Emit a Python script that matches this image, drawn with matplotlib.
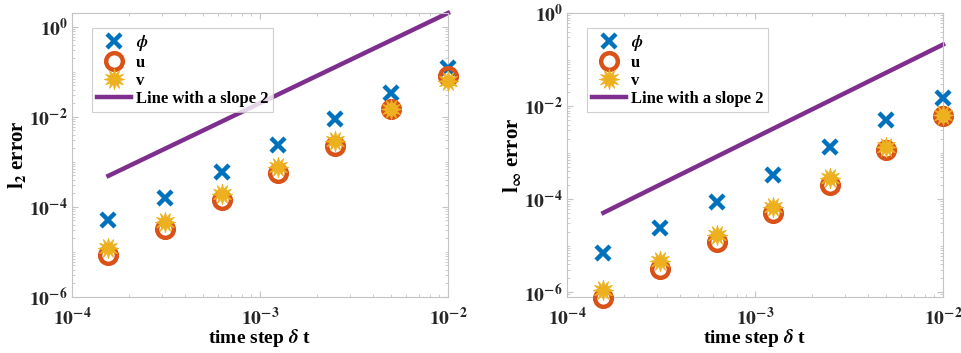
import matplotlib
matplotlib.use("Agg")
import matplotlib.pyplot as plt
import numpy as np
from matplotlib.ticker import FixedLocator, LogLocator, FuncFormatter, NullFormatter

plt.rcParams['font.family'] = ['Liberation Serif', 'DejaVu Serif']
plt.rcParams['font.weight'] = 'bold'
plt.rcParams['mathtext.fontset'] = 'stix'

dt = [1.5625e-4, 3.125e-4, 6.25e-4, 1.25e-3, 2.5e-3, 5e-3, 1e-2]

l2_phi = [5.0e-5, 1.6e-4, 5.8e-4, 2.4e-3, 8.7e-3, 3.4e-2, 0.12]
l2_u = [8.5e-6, 3.3e-5, 1.4e-4, 5.5e-4, 2.2e-3, 1.45e-2, 7.9e-2]
l2_v = [1.2e-5, 4.6e-5, 1.9e-4, 7.5e-4, 2.9e-3, 1.5e-2, 6.1e-2]
l2_ref = [4.88e-4, 1.95e-3, 7.8e-3, 3.125e-2, 0.125, 0.5, 2.0]

linf_phi = [6.9e-6, 2.4e-5, 8.9e-5, 3.3e-4, 1.35e-3, 5.1e-3, 1.5e-2]
linf_u = [7.4e-7, 3.1e-6, 1.23e-5, 5.0e-5, 2.0e-4, 1.15e-3, 6.0e-3]
linf_v = [1.1e-6, 4.6e-6, 1.7e-5, 6.9e-5, 2.8e-4, 1.35e-3, 6.5e-3]
linf_ref = [5.1e-5, 2.05e-4, 8.2e-4, 3.28e-3, 1.31e-2, 5.25e-2, 0.21]

labels = [r'$\phi$', 'u', 'v', 'Line with a slope 2']

C_BLUE = '#0072BD'
C_ORANGE = '#D95319'
C_YELLOW = '#EDB120'
C_PURPLE = '#7E2F8E'
FRAME = '#c4c4c4'

fig = plt.figure(figsize=(9.61, 3.53), dpi=100)

def fmt(v, pos):
    e = int(round(np.log10(v)))
    return r'$\mathbf{10^{%d}}$' % e

def panel(rect, phi, u, v, ref, ylim, ylabel):
    ax = fig.add_axes(rect)
    ax.set_xscale('log')
    ax.set_yscale('log')
    ax.plot(dt, phi, linestyle='none', marker='x', color=C_BLUE, ms=10, mew=3.2, label=labels[0], clip_on=False, zorder=3)
    ax.plot(dt, u, linestyle='none', marker='o', color=C_ORANGE, mfc='none', ms=12, mew=3.2, label=labels[1], clip_on=False, zorder=3)
    ax.plot(dt, v, linestyle='none', marker=(12, 1, 0), color=C_YELLOW, ms=15, mew=0.5, label=labels[2], clip_on=False, zorder=3)
    ax.plot(dt, ref, '-', color=C_PURPLE, lw=3.2, label=labels[3], clip_on=False, zorder=2)
    ax.set_xlim(1e-4, 1e-2)
    ax.set_ylim(*ylim)
    ax.xaxis.set_major_locator(FixedLocator([1e-4, 1e-3, 1e-2]))
    ax.yaxis.set_major_locator(FixedLocator([1e-6, 1e-4, 1e-2, 1e0]))
    ax.xaxis.set_minor_locator(LogLocator(base=10, subs=np.arange(2, 10)))
    ax.yaxis.set_minor_locator(LogLocator(base=10, subs=np.arange(1, 10), numticks=20))
    ax.xaxis.set_minor_formatter(NullFormatter())
    ax.yaxis.set_minor_formatter(NullFormatter())
    ax.xaxis.set_major_formatter(FuncFormatter(fmt))
    ax.yaxis.set_major_formatter(FuncFormatter(fmt))
    ax.tick_params(which='both', direction='in', top=True, right=True, color=FRAME, labelsize=14, labelcolor='#262626')
    ax.tick_params(which='major', length=4, width=0.8)
    ax.tick_params(which='minor', length=2, width=0.6)
    ax.tick_params(axis='x', pad=7)
    ax.tick_params(axis='y', pad=3)
    for s in ax.spines.values():
        s.set_color(FRAME)
        s.set_linewidth(0.8)
    ax.set_xlabel(r'time step $\delta$ t', fontsize=14, fontweight='bold', labelpad=-1)
    ax.set_ylabel(ylabel, fontsize=15, fontweight='bold', labelpad=1)
    leg = ax.legend(loc='upper left', bbox_to_anchor=(0.045, 0.96), fontsize=12, frameon=True, fancybox=False,
                    edgecolor=FRAME, borderpad=0.3, labelspacing=0.12, handlelength=2.0,
                    handletextpad=0.3, borderaxespad=0.2, markerscale=1.0)
    leg.get_frame().set_linewidth(0.8)
    for t in leg.get_texts():
        t.set_fontweight('bold')
    return ax

panel([72/961, 56/353, 376/961, 284/353], l2_phi, l2_u, l2_v, l2_ref, (1e-6, 2.0), r'l$_{\mathbf{2}}$ error')
panel([567/961, 56/353, 376/961, 284/353], linf_phi, linf_u, linf_v, linf_ref, (7.9e-7, 1.0), r'l$_{\mathbf{\infty}}$ error')

fig.savefig('out.png', dpi=100)
